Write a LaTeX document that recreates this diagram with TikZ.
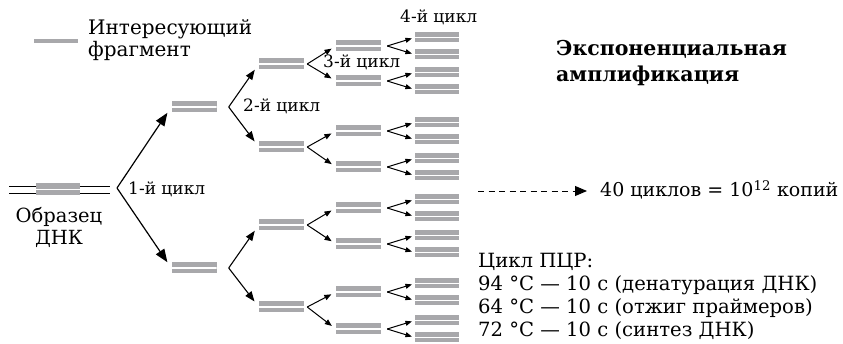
\documentclass[tikz,border=0pt]{standalone}
\usepackage{fontspec}
\setmainfont{DejaVu Serif}
\usetikzlibrary{arrows.meta}
\definecolor{fraggray}{RGB}{168,168,171}
\tikzset{
  frag/.style={fill=fraggray, minimum width=45pt, minimum height=11pt, inner sep=0pt,
    path picture={\draw[white,line width=1.4pt] (path picture bounding box.west) -- (path picture bounding box.east);}},
  fragsm/.style={frag, minimum width=44pt, minimum height=10pt},
  arrbig/.style={line width=1.2pt, -{Triangle[length=13pt,width=10pt]}, shorten >=7pt},
  arrmid/.style={line width=1.1pt, -{Triangle[length=10pt,width=7.5pt]}, shorten >=7pt},
  arrsm/.style={line width=1pt, -{Triangle[length=7pt,width=5.5pt]}, shorten >=5pt},
  arrtiny/.style={line width=1pt, -{Triangle[length=6.5pt,width=5pt]}, shorten >=3pt},
  cyc/.style={font=\fontsize{17}{20}\selectfont, inner sep=0pt, anchor=base west},
  body/.style={font=\fontsize{19}{23.3}\selectfont, inner sep=0pt, anchor=base west, align=left},
}
\begin{document}
\begin{tikzpicture}[x=1pt,y=-1pt]
  \useasboundingbox (0,0) rectangle (843,344);
  % legend
  \node[fill=fraggray, minimum width=44pt, minimum height=4.5pt, inner sep=0pt] (key) at (56,41) {};
  \node[anchor=base west, inner sep=0pt, font=\fontsize{20}{22}\selectfont, align=left] (keytxt) at (88,57) {Интересующий\\фрагмент};
  % DNA sample
  \draw[line width=0.9pt] (9,186) -- (110,186);
  \draw[line width=0.9pt] (9,193) -- (110,193);
  \node[frag, minimum width=44pt, minimum height=12pt] (dna) at (58,189.5) {};
  \node[font=\fontsize{19.5}{22}\selectfont, inner sep=0pt, align=center, anchor=base] (sample) at (59,245) {Образец\\ДНК};
  % cycle 1
  \coordinate (v0) at (117,188);
  \node[frag] (a1) at (194,107) {};
  \node[frag] (a2) at (194,268) {};
  \draw[arrbig] (v0) -- (a1.west);
  \draw[arrbig] (v0) -- (a2.west);
  % cycle 2
  \foreach \i/\y in {1/64,2/147,3/225,4/307}
    \node[frag] (b\i) at (281.5,\y) {};
  \foreach \p/\c in {1/1,1/2,2/3,2/4}
    \draw[arrmid] ([xshift=12pt]a\p.east) -- (b\c.west);
  % cycles 3 and 4
  \foreach \i/\y in {1/46,2/81,3/131,4/167,5/208,6/244,7/292,8/329} {
    \node[frag] (c\i) at (358.5,\y) {};
    \node[fragsm] (d\i-a) at (437,\y-8.5) {};
    \node[fragsm] (d\i-b) at (437,\y+8.5) {};
    \draw[arrtiny] ([xshift=6pt]c\i.east) -- (d\i-a.west);
    \draw[arrtiny] ([xshift=6pt]c\i.east) -- (d\i-b.west);
  }
  \foreach \p [evaluate=\p as \ca using int(2*\p-1), evaluate=\p as \cb using int(2*\p)] in {1,...,4} {
    \draw[arrsm] ([xshift=3pt]b\p.east) -- (c\ca.west);
    \draw[arrsm] ([xshift=3pt]b\p.east) -- (c\cb.west);
  }
  \node[cyc] (cyc1) at (128,195) {1-й цикл};
  \node[cyc] (cyc2) at (243,112) {2-й цикл};
  \node[cyc] (cyc3) at (323,68) {3-й цикл};
  \node[cyc] (cyc4) at (400,22.7) {4-й цикл};
  % right side
  \node[anchor=base west, inner sep=0pt, font=\bfseries\fontsize{20.5}{26.3}\selectfont, align=left] (title) at (556,81.7) {Экспоненциальная\\амплификация};
  \coordinate (dstart) at (478,191);
  \node[body] (copies) at (600,196.7) {40 циклов = 10\textsuperscript{12} копий};
  \draw[dash pattern=on 6pt off 4.5pt, line width=0.9pt, -{Triangle[length=12pt,width=10pt]}, shorten >=13pt] (dstart) -- (dstart -| copies.west);
  \node[body, font=\fontsize{19.6}{23.3}\selectfont] (pcr) at (478,337) {Цикл ПЦР:\\94 °C — 10 с (денатурация ДНК)\\64 °C — 10 с (отжиг праймеров)\\72 °C — 10 с (синтез ДНК)};
\end{tikzpicture}
\end{document}
